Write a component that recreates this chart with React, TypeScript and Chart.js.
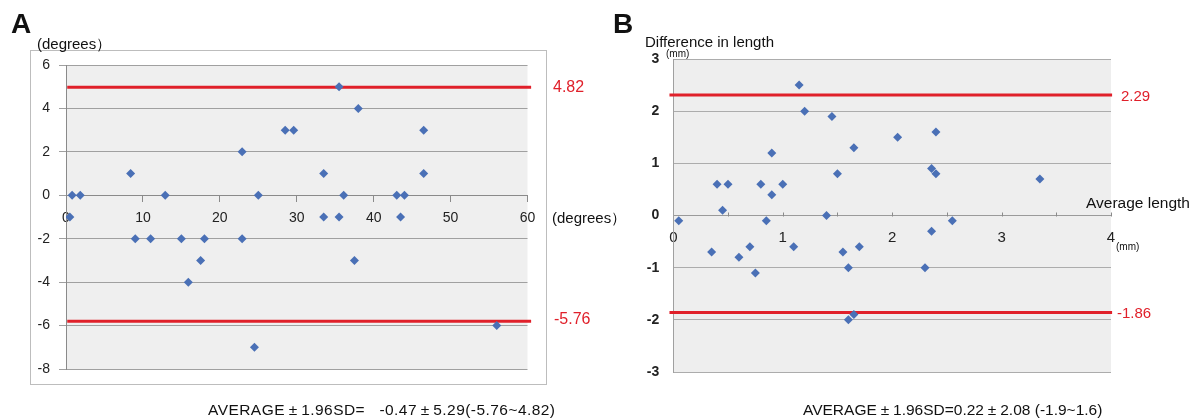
import React, { useEffect, useRef } from 'react';
import { Chart, registerables } from 'chart.js';

Chart.register(...registerables);

const FONT = '"Liberation Sans", Arial, Helvetica, sans-serif';

// Panel A: mean angle (degrees) vs difference (degrees)
const aMean = [0.8, 1.85, 8.4, 12.9, 22.9, 25.0, 28.5, 29.6, 33.5, 35.5, 36.1, 38.0, 43.0, 44.0, 46.5, 46.5,
  0.5, 33.5, 35.5, 43.5, 9.0, 11.0, 15.0, 18.0, 22.9, 17.5, 37.5, 15.9, 24.5, 56.0];
const aDiff = [0, 0, 1, 0, 2, 0, 3, 3, 1, 5, 0, 4, 0, 0, 3, 1,
  -1, -1, -1, -1, -2, -2, -2, -2, -2, -3, -3, -4, -7, -6];
const aLimits = [4.98, -5.8];
const aLimitLabels = ['4.82', '-5.76'];
const aLineSpan = [0.16, 60.47];

// Panel B: average length (mm) vs difference in length (mm)
const bMean = [1.15, 1.2, 1.45, 1.65, 2.05, 2.4, 0.9, 2.36, 2.4, 1.5, 3.35, 0.4, 0.5, 0.8, 1.0, 0.9, 0.45,
  0.05, 0.35, 0.6, 0.7, 0.75, 0.85, 1.1, 1.4, 1.55, 1.6, 1.7, 1.6, 1.65, 2.3, 2.36, 2.55];
const bDiff = [2.5, 2.0, 1.9, 1.3, 1.5, 1.6, 1.2, 0.9, 0.8, 0.8, 0.7, 0.6, 0.6, 0.6, 0.6, 0.4, 0.1,
  -0.1, -0.7, -0.8, -0.6, -1.1, -0.1, -0.6, 0.0, -0.7, -1.0, -0.6, -2.0, -1.9, -1.0, -0.3, -0.1];
const bLimits = [2.31, -1.86];
const bLimitLabels = ['2.29', '-1.86'];
const bLineSpan = [-0.035, 4.01];

const footerA = ['AVERAGE', '\u00B1', '1.96SD=   -0.47', '\u00B1', '5.29(-5.76~4.82)'];
const footerB = ['AVERAGE', '\u00B1', '1.96SD=0.22', '\u00B1', '2.08 (-1.9~1.6)'];

const POINT = '#4a70b6';
const RED = '#e0202a';

const makeBg = (color: string) => ({
  id: 'bgfill',
  beforeDraw(chart: any) {
    const { ctx, chartArea: a } = chart;
    ctx.save();
    ctx.fillStyle = color;
    ctx.fillRect(a.left, a.top, a.right - a.left, a.bottom - a.top);
    ctx.restore();
  },
});

const bTicksPlugin = {
  id: 'bticks',
  beforeDatasetsDraw(chart: any) {
    const { ctx } = chart;
    const xs = chart.scales.x;
    const ys = chart.scales.y;
    const y0 = Math.round(ys.getPixelForValue(0)) + 0.5;
    ctx.save();
    ctx.strokeStyle = '#8a8a8a';
    ctx.lineWidth = 1;
    for (let v = 0.5; v <= 4.001; v += 0.5) {
      const x = Math.round(xs.getPixelForValue(v)) + 0.5;
      ctx.beginPath();
      ctx.moveTo(x, y0);
      ctx.lineTo(x, y0 - 4);
      ctx.stroke();
    }
    ctx.restore();
  },
};

function limitSets(limits: number[], span: number[]) {
  return limits.map((v) => ({
    data: [{ x: span[0], y: v }, { x: span[1], y: v }],
    showLine: true,
    borderColor: RED,
    borderWidth: 3,
    pointRadius: 0,
    clip: false as any,
    order: 2,
  }));
}

function pointSet(xs: number[], ys: number[]) {
  return {
    data: xs.map((x, i) => ({ x, y: ys[i] })),
    pointStyle: 'rectRot',
    pointRadius: 4.5,
    backgroundColor: POINT,
    borderColor: POINT,
    borderWidth: 0,
    showLine: false,
    order: 0,
  };
}

function ChartA() {
  const ref = useRef<HTMLCanvasElement>(null);
  useEffect(() => {
    const chart = new Chart(ref.current as HTMLCanvasElement, {
      type: 'scatter',
      data: { datasets: [pointSet(aMean, aDiff) as any, ...limitSets(aLimits, aLineSpan)] },
      options: {
        responsive: false,
        animation: false,
        events: [],
        layout: { padding: { left: 0, top: 65, right: 72.5, bottom: 49 } },
        plugins: { legend: { display: false }, tooltip: { enabled: false } },
        scales: {
          x: {
            type: 'linear',
            position: { y: 0 } as any,
            min: 0,
            max: 60,
            ticks: { stepSize: 10, padding: 8, color: '#222', font: { family: FONT, size: 14 } },
            grid: { drawOnChartArea: false, drawTicks: true, tickLength: 6, color: '#8a8a8a' },
            border: { color: '#8a8a8a' },
          },
          y: {
            type: 'linear',
            position: 'left',
            min: -8,
            max: 6,
            ticks: { stepSize: 2, padding: 9, color: '#222', font: { family: FONT, size: 14 } },
            grid: { color: '#a0a0a0', tickLength: 7 },
            border: { color: '#8a8a8a' },
            afterFit(s: any) { s.width = 66; },
          },
        },
      },
      plugins: [makeBg('#efefef')],
    });
    return () => chart.destroy();
  }, []);
  return <canvas ref={ref} width={600} height={418} style={{ position: 'absolute', left: 0, top: 0, width: 600, height: 418 }} />;
}

function ChartB() {
  const ref = useRef<HTMLCanvasElement>(null);
  useEffect(() => {
    const chart = new Chart(ref.current as HTMLCanvasElement, {
      type: 'scatter',
      data: { datasets: [pointSet(bMean, bDiff) as any, ...limitSets(bLimits, bLineSpan)] },
      options: {
        responsive: false,
        animation: false,
        events: [],
        layout: { padding: { left: 0, top: 59, right: 88, bottom: 46 } },
        plugins: { legend: { display: false }, tooltip: { enabled: false } },
        scales: {
          x: {
            type: 'linear',
            position: { y: 0 } as any,
            min: 0,
            max: 4,
            ticks: {
              stepSize: 1,
              padding: 13,
              color: '#222',
              font: { family: FONT, size: 15 },
            },
            grid: { drawOnChartArea: false, drawTicks: false, color: '#8a8a8a' },
            border: { color: '#9a9a9a' },
          },
          y: {
            type: 'linear',
            position: 'left',
            min: -3,
            max: 3,
            ticks: { stepSize: 1, padding: 14, color: '#222', font: { family: FONT, size: 14, weight: 'bold' } },
            grid: { color: '#acacac', drawTicks: false },
            border: { color: '#a0a0a0' },
            afterFit(s: any) { s.width = 73.3; },
          },
        },
      },
      plugins: [makeBg('#eeeeee'), bTicksPlugin],
    });
    return () => chart.destroy();
  }, []);
  return <canvas ref={ref} width={599} height={418} style={{ position: 'absolute', left: 600, top: 0, width: 599, height: 418 }} />;
}

function Label(props: { x: number; cy: number; size: number; text: string; color?: string; bold?: boolean }) {
  const { x, cy, size, text, color, bold } = props;
  return (
    <div
      style={{
        position: 'absolute',
        left: x,
        top: cy - 0.47 * size,
        fontSize: size,
        lineHeight: `${size}px`,
        fontFamily: FONT,
        fontWeight: bold ? 'bold' : 'normal',
        color: color || '#111',
        whiteSpace: 'pre',
      }}
    >
      {text}
    </div>
  );
}

function Footer(props: { x: number; cy: number; size: number; parts: string[]; spacing: number }) {
  const { x, cy, size, parts, spacing } = props;
  return (
    <div
      style={{
        position: 'absolute',
        left: x,
        top: cy - 0.47 * size,
        fontSize: size,
        lineHeight: `${size}px`,
        fontFamily: FONT,
        color: '#111',
        whiteSpace: 'pre',
        letterSpacing: spacing,
      }}
    >
      {parts.map((p, i) =>
        p === '\u00B1' ? (
          <span key={i} style={{ display: 'inline-block', width: '1.05em', textAlign: 'center', letterSpacing: 0 }}>{p}</span>
        ) : (
          <span key={i}>{p}</span>
        )
      )}
    </div>
  );
}

export default function App() {
  useEffect(() => {
    Chart.defaults.font.family = FONT;
  }, []);
  return (
    <div style={{ position: 'fixed', left: 0, top: 0, width: 1199, height: 418, background: '#fff', overflow: 'hidden' }}>
      <div style={{ position: 'absolute', left: 30, top: 50, width: 515, height: 333, border: '1px solid #bdbdbd' }} />
      <ChartA />
      <ChartB />
      <Label x={11} cy={23} size={28} bold text="A" />
      <Label x={37} cy={43} size={15} text={'(degrees\uFF09'} />
      <Label x={552} cy={217} size={15} text={'(degrees\uFF09'} />
      <Label x={553} cy={87} size={16} color={RED} text={aLimitLabels[0]} />
      <Label x={554} cy={319} size={16} color={RED} text={aLimitLabels[1]} />
      <Footer x={208} cy={409} size={15.5} parts={footerA} spacing={0.45} />
      <Label x={613} cy={23} size={28} bold text="B" />
      <Label x={645} cy={41} size={15} text="Difference in length" />
      <Label x={666} cy={54} size={10} text="(mm)" />
      <Label x={1086} cy={202} size={15.5} text="Average length" />
      <Label x={1116} cy={247} size={10} text="(mm)" />
      <Label x={1121} cy={95} size={15} color={RED} text={bLimitLabels[0]} />
      <Label x={1117} cy={312} size={15} color={RED} text={bLimitLabels[1]} />
      <Footer x={803} cy={409} size={15.5} parts={footerB} spacing={0} />
    </div>
  );
}
